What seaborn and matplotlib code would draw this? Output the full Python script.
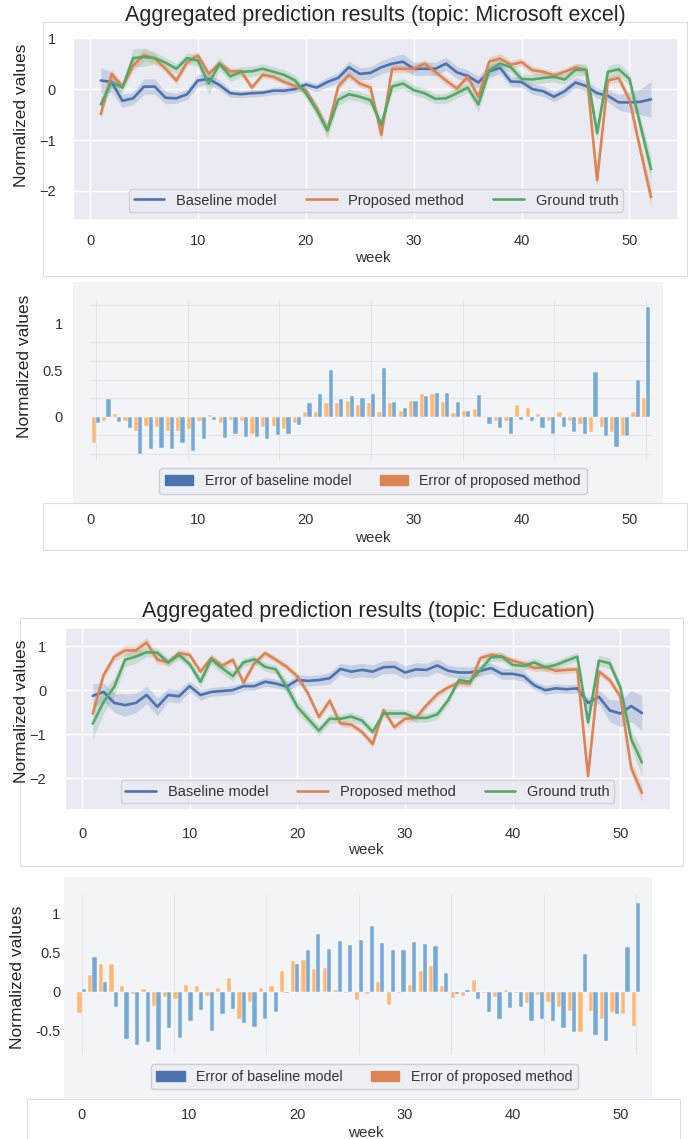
import numpy as np
import pandas as pd
import matplotlib.pyplot as plt
import seaborn as sns
from matplotlib.patches import Patch, Rectangle

# weeks of the line charts and of the error bars
weeks = list(range(1, 53))
bar_weeks = list(range(0, 53))

# topic: Microsoft excel
ms_base = [0.17, 0.14, -0.23, -0.18, 0.05, 0.05, -0.17, -0.18, -0.10, 0.17,
           0.20, 0.08, -0.08, -0.10, -0.08, -0.07, -0.03, -0.03, 0.00, 0.09,
           0.03, 0.14, 0.22, 0.43, 0.30, 0.32, 0.43, 0.50, 0.54, 0.40,
           0.40, 0.40, 0.50, 0.33, 0.26, 0.13, 0.35, 0.42, 0.15, 0.14,
           0.00, -0.04, -0.15, -0.04, 0.13, 0.06, -0.08, -0.13, -0.26, -0.26,
           -0.25, -0.20]
ms_prop = [-0.49, 0.30, 0.05, 0.46, 0.67, 0.60, 0.40, 0.17, 0.53, 0.66,
           0.30, 0.50, 0.35, 0.35, 0.03, 0.28, 0.24, 0.14, 0.06, -0.02,
           -0.37, -0.81, 0.05, 0.28, 0.11, 0.03, -0.90, 0.40, 0.40, 0.40,
           0.50, 0.34, 0.17, 0.01, 0.24, -0.15, 0.54, 0.60, 0.48, 0.53,
           0.37, 0.34, 0.27, 0.34, 0.43, 0.37, -1.79, 0.17, 0.22, -0.21,
           -1.18, -2.12]
ms_truth = [-0.30, 0.14, 0.03, 0.61, 0.63, 0.61, 0.52, 0.40, 0.61, 0.56,
            0.11, 0.50, 0.25, 0.34, 0.35, 0.40, 0.34, 0.28, 0.17, -0.08,
            -0.41, -0.81, -0.21, -0.10, -0.15, -0.22, -0.70, 0.05, 0.11, -0.02,
            -0.08, -0.19, -0.18, -0.08, 0.03, -0.30, 0.37, 0.50, 0.43, 0.20,
            0.19, 0.22, 0.24, 0.19, 0.38, 0.38, -0.86, 0.34, 0.39, 0.20,
            -0.70, -1.57]
# half width of the shaded bands
ms_base_ci = [0.25, 0.20, 0.13, 0.12, 0.15, 0.15, 0.12, 0.10, 0.10, 0.12,
              0.10, 0.10, 0.08, 0.07, 0.07, 0.07, 0.07, 0.07, 0.07, 0.08,
              0.08, 0.10, 0.10, 0.12, 0.12, 0.12, 0.13, 0.14, 0.15, 0.13,
              0.13, 0.13, 0.13, 0.12, 0.12, 0.12, 0.12, 0.12, 0.10, 0.10,
              0.10, 0.10, 0.10, 0.10, 0.10, 0.10, 0.10, 0.12, 0.15, 0.20,
              0.25, 0.35]
ms_prop_ci = [0.10, 0.10, 0.07, 0.10, 0.12, 0.10, 0.08, 0.08, 0.08, 0.08,
              0.08, 0.08, 0.07, 0.07, 0.06, 0.06, 0.06, 0.06, 0.06, 0.07,
              0.08, 0.10, 0.08, 0.08, 0.08, 0.08, 0.15, 0.08, 0.08, 0.08,
              0.08, 0.08, 0.08, 0.08, 0.08, 0.10, 0.10, 0.10, 0.08, 0.08,
              0.08, 0.07, 0.07, 0.07, 0.08, 0.08, 0.12, 0.08, 0.08, 0.10,
              0.15, 0.22]
ms_truth_ci = [0.15, 0.12, 0.10, 0.18, 0.18, 0.12, 0.10, 0.10, 0.10, 0.12,
               0.22, 0.12, 0.10, 0.10, 0.10, 0.10, 0.10, 0.10, 0.10, 0.10,
               0.12, 0.15, 0.12, 0.10, 0.10, 0.10, 0.12, 0.10, 0.10, 0.10,
               0.10, 0.10, 0.10, 0.10, 0.10, 0.15, 0.12, 0.10, 0.10, 0.10,
               0.10, 0.10, 0.10, 0.10, 0.12, 0.12, 0.15, 0.12, 0.12, 0.12,
               0.15, 0.25]
ms_err_base = [-0.07, 0.19, -0.06, -0.12, -0.40, -0.35, -0.33, -0.35, -0.28, -0.37,
               -0.24, -0.03, -0.23, -0.18, -0.22, -0.22, -0.24, -0.20, -0.18, -0.09,
               0.15, 0.25, 0.50, 0.19, 0.22, 0.20, 0.24, 0.53, 0.16, 0.10,
               0.17, 0.22, 0.26, 0.26, 0.16, 0.06, 0.23, -0.08, -0.12, -0.18,
               -0.03, -0.05, -0.12, -0.19, -0.11, -0.16, -0.18, 0.48, -0.21, -0.32,
               -0.21, 0.40, 1.18]
ms_err_prop = [-0.28, -0.05, 0.03, -0.04, -0.15, -0.10, -0.11, -0.15, -0.15, -0.13,
               -0.04, 0.02, -0.07, -0.03, -0.05, -0.18, -0.11, -0.10, -0.13, -0.07,
               0.05, 0.05, 0.15, 0.15, 0.17, 0.13, 0.15, 0.05, 0.15, 0.06,
               0.17, 0.25, 0.25, 0.16, 0.04, 0.06, 0.08, 0.01, -0.05, -0.05,
               0.13, 0.09, 0.03, -0.04, 0.05, -0.04, -0.08, -0.16, -0.11, -0.16,
               -0.21, 0.05, 0.20]

# topic: Education
edu_base = [-0.13, -0.04, -0.29, -0.34, -0.29, -0.11, -0.38, -0.11, -0.14, 0.09,
            -0.11, -0.04, -0.02, 0.00, 0.09, 0.09, 0.19, 0.15, 0.08, 0.23,
            0.21, 0.23, 0.27, 0.48, 0.42, 0.46, 0.42, 0.52, 0.53, 0.40,
            0.47, 0.46, 0.56, 0.44, 0.40, 0.40, 0.44, 0.50, 0.37, 0.37,
            0.32, 0.11, 0.00, 0.04, 0.02, 0.04, -0.29, -0.15, -0.46, -0.53,
            -0.36, -0.52]
edu_prop = [-0.53, 0.34, 0.76, 0.90, 0.90, 1.08, 0.69, 0.63, 0.84, 0.80,
            0.42, 0.73, 0.55, 0.69, 0.17, 0.61, 0.84, 0.69, 0.53, 0.31,
            -0.08, -0.61, -0.24, -0.76, -0.78, -0.95, -1.22, -0.45, -0.84, -0.65,
            -0.63, -0.34, -0.09, 0.06, 0.17, 0.15, 0.73, 0.80, 0.76, 0.67,
            0.60, 0.50, 0.52, 0.44, 0.46, 0.47, -1.95, 0.42, 0.23, -0.15,
            -1.76, -2.33]
edu_truth = [-0.76, -0.27, 0.08, 0.69, 0.76, 0.86, 0.85, 0.63, 0.80, 0.59,
             0.19, 0.70, 0.50, 0.32, 0.63, 0.70, 0.53, 0.47, 0.08, -0.38,
             -0.65, -0.92, -0.65, -0.65, -0.60, -0.69, -0.95, -0.53, -0.53, -0.53,
             -0.63, -0.63, -0.55, -0.23, 0.23, 0.19, 0.46, 0.75, 0.76, 0.57,
             0.55, 0.63, 0.52, 0.57, 0.67, 0.76, -0.73, 0.67, 0.61, 0.06,
             -1.11, -1.64]
edu_base_ci = [0.28, 0.20, 0.22, 0.25, 0.22, 0.20, 0.20, 0.15, 0.15, 0.12,
               0.12, 0.10, 0.10, 0.10, 0.10, 0.10, 0.10, 0.10, 0.10, 0.12,
               0.12, 0.12, 0.13, 0.13, 0.15, 0.15, 0.15, 0.15, 0.15, 0.15,
               0.15, 0.15, 0.15, 0.13, 0.13, 0.13, 0.12, 0.12, 0.12, 0.12,
               0.12, 0.10, 0.10, 0.10, 0.10, 0.10, 0.12, 0.15, 0.25, 0.30,
               0.35, 0.40]
edu_prop_ci = [0.10, 0.10, 0.10, 0.12, 0.12, 0.12, 0.10, 0.08, 0.08, 0.08,
               0.08, 0.08, 0.08, 0.08, 0.08, 0.08, 0.08, 0.08, 0.08, 0.08,
               0.08, 0.08, 0.08, 0.08, 0.08, 0.08, 0.10, 0.08, 0.08, 0.08,
               0.08, 0.08, 0.08, 0.08, 0.08, 0.08, 0.08, 0.08, 0.08, 0.08,
               0.08, 0.08, 0.08, 0.08, 0.08, 0.08, 0.10, 0.08, 0.08, 0.10,
               0.15, 0.20]
edu_truth_ci = [0.35, 0.25, 0.20, 0.15, 0.15, 0.10, 0.10, 0.10, 0.10, 0.10,
                0.12, 0.12, 0.12, 0.12, 0.10, 0.10, 0.10, 0.10, 0.15, 0.15,
                0.12, 0.12, 0.10, 0.10, 0.10, 0.10, 0.10, 0.10, 0.10, 0.10,
                0.10, 0.10, 0.10, 0.10, 0.10, 0.10, 0.10, 0.10, 0.10, 0.10,
                0.10, 0.10, 0.10, 0.10, 0.10, 0.10, 0.15, 0.12, 0.12, 0.12,
                0.20, 0.30]
edu_err_base = [0.04, 0.44, 0.12, -0.19, -0.60, -0.68, -0.64, -0.74, -0.47, -0.59,
                -0.37, -0.23, -0.50, -0.29, -0.22, -0.40, -0.45, -0.35, -0.26, -0.01,
                0.36, 0.53, 0.74, 0.55, 0.65, 0.60, 0.66, 0.84, 0.63, 0.53,
                0.54, 0.64, 0.61, 0.59, 0.24, -0.03, 0.02, -0.09, -0.26, -0.35,
                -0.21, -0.19, -0.38, -0.35, -0.38, -0.46, -0.52, 0.48, -0.55, -0.63,
                -0.29, 0.58, 1.14]
edu_err_prop = [-0.27, 0.21, 0.36, 0.36, 0.07, -0.03, 0.03, -0.18, -0.07, -0.09,
                0.09, 0.07, -0.06, 0.05, 0.18, -0.35, -0.13, 0.05, 0.07, 0.26,
                0.40, 0.41, 0.29, 0.30, 0.02, -0.02, -0.10, -0.03, 0.13, -0.17,
                -0.01, 0.09, 0.26, 0.33, 0.08, -0.08, -0.06, 0.15, -0.02, -0.07,
                0.02, -0.02, -0.14, -0.04, -0.13, -0.20, -0.24, -0.52, -0.25, -0.35,
                -0.26, -0.29, -0.44]

line_names = ['Baseline model', 'Proposed method', 'Ground truth']
bar_names = ['Error of baseline model', 'Error of proposed method']
line_colors = ['#4c72b0', '#dd8452', '#55a868']
bar_colors = ['#74a9d8', '#fdb874']

W, H = 689, 1139
sns.set_theme(style='darkgrid')
plt.rcParams['font.family'] = ['Liberation Sans', 'DejaVu Sans']

fig = plt.figure(figsize=(W / 100, H / 100), dpi=100)


def box(x0, y0, x1, y1):
    # pixel box measured from the top left -> figure fraction
    return [x0 / W, 1 - y1 / H, (x1 - x0) / W, (y1 - y0) / H]


def frame(x0, y0, x1, y1, fc='none', ec='#dedede'):
    fig.add_artist(Rectangle((x0 / W, 1 - y1 / H), (x1 - x0) / W, (y1 - y0) / H,
                             transform=fig.transFigure, fc=fc, ec=ec, lw=0.8, zorder=0))


def line_panel(rect, title, title_pad, series, bands, xlim, ylim,
               ylab_xy, xlab_xy, leg_xy, xpad, ypad):
    ax = fig.add_axes(box(*rect))
    df = pd.DataFrame({'week': weeks * 3,
                       'value': sum(series, []),
                       'model': [n for n in line_names for _ in weeks]})
    sns.lineplot(data=df, x='week', y='value', hue='model', hue_order=line_names,
                 palette=line_colors, linewidth=1.9, ax=ax)
    for vals, band, col in zip(series, bands, line_colors):
        v, b = np.array(vals), np.array(band)
        ax.fill_between(weeks, v - b, v + b, color=col, alpha=0.22, lw=0)
    ax.set_xlim(*xlim)
    ax.set_ylim(*ylim)
    ax.set_xticks(range(0, 51, 10))
    ax.set_yticks([-2, -1, 0, 1])
    ax.tick_params(axis='x', labelsize=10.5, pad=xpad, labelcolor='#333333')
    ax.tick_params(axis='y', labelsize=10.5, pad=ypad, labelcolor='#333333')
    ax.set_title(title, fontsize=15.5, pad=title_pad)
    ax.set_xlabel('week', fontsize=11, color='#333333', va='center')
    ax.xaxis.set_label_coords(*xlab_xy)
    ax.set_ylabel('Normalized values', fontsize=12.5, va='center')
    ax.yaxis.set_label_coords(*ylab_xy)
    ax.legend(ncol=3, loc='lower center', bbox_to_anchor=leg_xy, borderaxespad=0,
              fontsize=10.5, handlelength=2.1, borderpad=0.3, labelcolor='#333333')
    return ax


def bar_panel(bg, rect, err_base, err_prop, ylim, yticks, ylabels, grid_y,
              ylab_xy, leg_xy, ypad):
    frame(*bg, fc='#f3f4f8', ec='none')
    ax = fig.add_axes(box(*rect))
    df = pd.DataFrame({'week': bar_weeks * 2,
                       'error': err_prop + err_base,
                       'kind': [bar_names[1]] * 53 + [bar_names[0]] * 53})
    sns.barplot(data=df, x='week', y='error', hue='kind',
                hue_order=[bar_names[1], bar_names[0]],
                palette=[bar_colors[1], bar_colors[0]], saturation=1,
                width=0.8, edgecolor='#ffffff', linewidth=0.3, legend=False, ax=ax)
    ax.set_facecolor('none')
    ax.set_xlim(-0.5, 52.5)
    ax.set_ylim(*ylim)
    ax.set_xticks(np.linspace(0, 52, 7))
    ax.set_xticklabels([])
    ax.set_yticks(yticks)
    ax.set_yticklabels(ylabels)
    ax.set_yticks(grid_y, minor=True)
    ax.grid(False)
    ax.grid(True, axis='x', color='#e3e4ea', lw=0.8)
    ax.grid(True, axis='y', which='minor', color='#e3e4ea', lw=0.8)
    ax.set_axisbelow(True)
    ax.tick_params(which='both', length=0)
    ax.tick_params(axis='y', labelsize=10.5, pad=ypad, labelcolor='#333333')
    for s in ax.spines.values():
        s.set_visible(False)
    ax.set_xlabel('')
    ax.set_ylabel('Normalized values', fontsize=12.5, va='center')
    ax.yaxis.set_label_coords(*ylab_xy)
    handles = [Patch(color=line_colors[0]), Patch(color=line_colors[1])]
    ax.legend(handles, bar_names, ncol=2, loc='lower center', bbox_to_anchor=leg_xy,
              borderaxespad=0, fontsize=10.2, handlelength=2.0, borderpad=0.4,
              facecolor='#eeeff4', edgecolor='#cfd0d6', framealpha=1,
              labelcolor='#333333')
    return ax


def week_axis(rect, xlim, pad, xlab_xy):
    ax = fig.add_axes(box(*rect))
    ax.set_facecolor('none')
    ax.grid(False)
    ax.set_xlim(*xlim)
    ax.set_xticks(range(0, 51, 10))
    ax.set_yticks([])
    ax.tick_params(axis='x', length=0, pad=pad, labelsize=10.5, labelcolor='#333333')
    for s in ax.spines.values():
        s.set_visible(False)
    ax.set_xlabel('week', fontsize=11, color='#333333', va='center')
    ax.xaxis.set_label_coords(*xlab_xy)
    return ax


# faint frames of the pasted screenshots
frame(43, 22, 687, 276)
frame(43, 503, 687, 550, fc='white')
frame(20, 618, 683, 866)
frame(26.5, 1099, 680, 1145, fc='white')

line_panel((73, 37.7, 678, 220), 'Aggregated prediction results (topic: Microsoft excel)', 12,
           [ms_base, ms_prop, ms_truth], [ms_base_ci, ms_prop_ci, ms_truth_ci],
           (-1.58, 54.5), (-2.57, 1.01), (-0.0843, 0.572), (0.496, -0.206),
           (0.5008, 0.044), 3.8, 6.5)

bar_panel((73, 282, 662.5, 503), (90.5, 300, 651.5, 461), ms_err_base, ms_err_prop,
          (-0.475, 1.256), [0, 0.5, 1], ['0', '0.5', '1'], np.arange(-0.4, 1.21, 0.2),
          (-0.1185, 0.59), (0.5036, -0.202), 20)
week_axis((73, 403, 678, 503), (-1.58, 54.5), 7.2, (0.496, -0.35))

line_panel((65, 628, 671, 810), 'Aggregated prediction results (topic: Education)', 7.6,
           [edu_base, edu_prop, edu_truth], [edu_base_ci, edu_prop_ci, edu_truth_ci],
           (-1.58, 54.7), (-2.72, 1.41), (-0.071, 0.541), (0.496, -0.22),
           (0.499, 0.038), 6.0, 7.5)

bar_panel((64, 876.7, 651.5, 1099), (76.4, 895, 641.3, 1055), edu_err_base, edu_err_prop,
          (-0.81, 1.24), [-0.5, 0, 0.5, 1], ['-0.5', '0', '0.5', '1'], [-0.5, 0, 0.5, 1],
          (-0.1039, 0.4825), (0.5097, -0.2156), 11.5)
week_axis((65, 999, 671, 1099), (-1.55, 54.67), 6.5, (0.496, -0.34))

fig.savefig('out.png', dpi=100, facecolor='white')
